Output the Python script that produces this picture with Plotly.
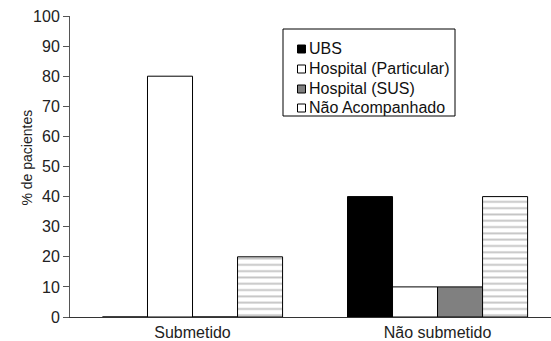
import plotly.graph_objects as go

categories = ["Submetido", "Não submetido"]
series_names = ["UBS", "Hospital (Particular)", "Hospital (SUS)", "Não Acompanhado"]
ubs = [0, 40]
hosp_particular = [80, 10]
hosp_sus = [0, 10]
nao_acompanhado = [20, 40]
y_ticks = [0, 10, 20, 30, 40, 50, 60, 70, 80, 90, 100]
y_title = "% de pacientes"

values = [ubs, hosp_particular, hosp_sus, nao_acompanhado]
colors = ["#000000", "#ffffff", "#808080", "#ffffff"]

fig = go.Figure()
for i, (name, vals) in enumerate(zip(series_names, values)):
    marker = dict(color=colors[i], line=dict(color="#000000", width=1))
    if name == "Não Acompanhado":
        marker["pattern"] = dict(shape="-", fgcolor="#8a8a8a", bgcolor="#ffffff",
                                 size=6.3, solidity=0.3)
    fig.add_trace(go.Bar(name=name, x=categories, y=vals, marker=marker,
                         showlegend=False))

# custom legend (pixel -> paper coords)
ML, MT, MB, W, H = 70, 16, 24, 551, 341
PX0, PX1, PY0, PY1 = ML, W, MT, H - MB
def px(x):
    return (x - PX0) / (PX1 - PX0)
def py(y):
    return (PY1 - y) / (PY1 - PY0)

shapes = [dict(type="rect", xref="paper", yref="paper",
               x0=px(283), x1=px(455), y0=py(116), y1=py(29),
               line=dict(color="#000", width=1), fillcolor="white", layer="above")]
annotations = []
baselines = [53, 73, 93, 112]
for name, col, base in zip(series_names, colors, baselines):
    shapes.append(dict(type="rect", xref="paper", yref="paper",
                       x0=px(297.5), x1=px(305.5), y0=py(base), y1=py(base - 8),
                       line=dict(color="#000", width=1), fillcolor=col, layer="above"))
    annotations.append(dict(text=name, xref="paper", yref="paper",
                            x=px(307), y=py(base - 5), xanchor="left", yanchor="middle",
                            showarrow=False, font=dict(size=16, color="#111")))
annotations.append(dict(text=y_title, xref="paper", yref="paper", x=px(26), y=py(157.5),
                        xanchor="center", yanchor="middle", textangle=-90,
                        showarrow=False, font=dict(size=14, color="#222")))

font = "Liberation Sans, Arial, sans-serif"
fig.update_layout(
    width=W, height=H,
    margin=dict(l=ML, r=0, t=MT, b=MB),
    paper_bgcolor="white", plot_bgcolor="white",
    barmode="group", bargap=0.265, bargroupgap=0,
    font=dict(family=font, size=16, color="#222"),
    showlegend=False,
    shapes=shapes, annotations=annotations,
    xaxis=dict(range=[-0.5, 1.463], showline=True, linecolor="#333", linewidth=1,
               ticks="", showgrid=False, tickfont=dict(size=16), ticklabelstandoff=1,
               automargin=False),
    yaxis=dict(range=[0, 100], tickvals=y_ticks, showline=True, linecolor="#555",
               linewidth=1, ticks="outside", ticklen=6, tickcolor="#555",
               showgrid=False, zeroline=False, tickfont=dict(size=16),
               automargin=False),
)
fig.write_html("out.html", config={"displayModeBar": False},
               post_script="document.body.style.margin='0';")
